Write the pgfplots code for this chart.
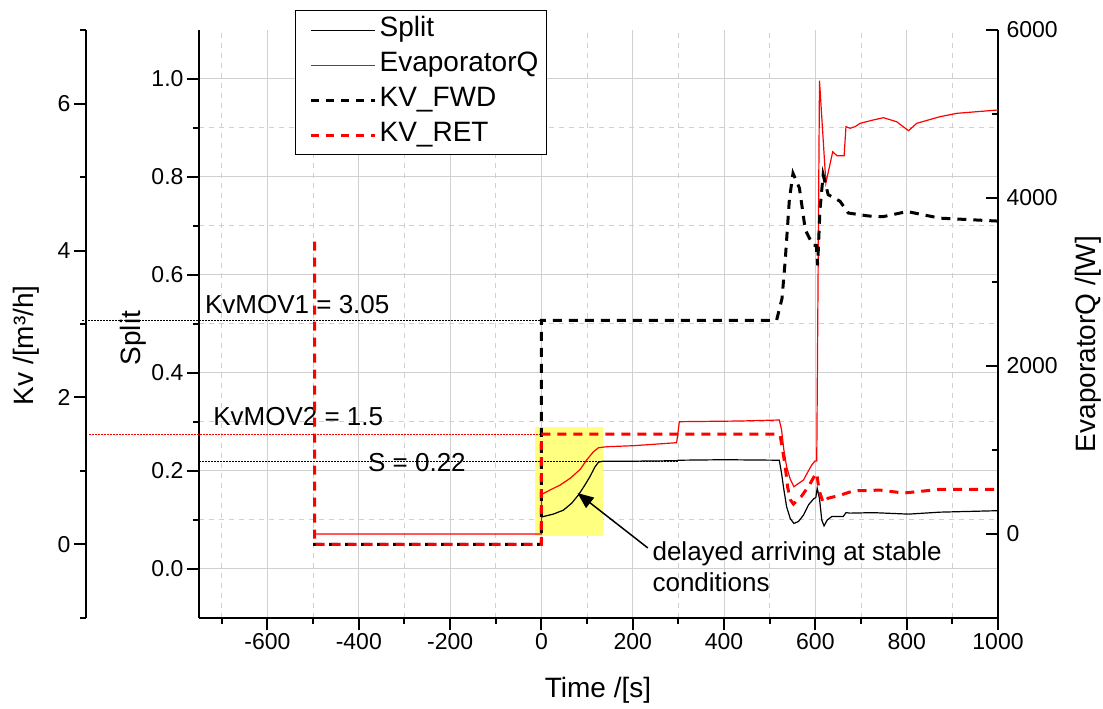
\documentclass[border=0pt]{standalone}
\usepackage{pgfplots}
\pgfplotsset{compat=1.18}
\usepackage{fontspec}
\setmainfont{Liberation Sans}
\usetikzlibrary{arrows.meta}
\definecolor{gridgray}{RGB}{208,208,208}
\definecolor{boxyellow}{RGB}{255,255,128}
\newcommand{\tickfont}{\fontsize{23}{27}\selectfont}
\newcommand{\labfont}{\fontsize{28}{32}\selectfont}
\newcommand{\annfont}{\fontsize{26}{30}\selectfont}
\pgfplotsset{
  every non boxed x axis/.style={},
  every non boxed y axis/.style={},
  base/.style={
    at={(199pt,91pt)}, anchor=south west,
    width=799pt, height=588pt, scale only axis,
    xmin=-750, xmax=1000,
    axis line style={-, line width=2.5pt, black},
    major tick length=12pt, minor tick length=6pt,
    tick style={black, line width=2pt},
    tick label style={font=\tickfont},
    /pgf/number format/assume math mode=true,
    /pgf/number format/1000 sep={},
  },
}
\begin{document}
\begin{tikzpicture}
\useasboundingbox (0,0) rectangle (1103pt,709pt);
% ---------- main axis: Split ----------
\begin{axis}[base,
  ymin=-0.1, ymax=1.1,
  axis x line=bottom, axis y line=left,
  xtick pos=bottom, ytick pos=left,
  tick align=outside,
  xtick={-600,-400,-200,0,200,400,600,800,1000},
  minor xtick={-700,-500,-300,-100,100,300,500,700,900},
  ytick={0,0.2,0.4,0.6,0.8,1.0},
  minor ytick={0.1,0.3,0.5,0.7,0.9},
  yticklabel style={/pgf/number format/.cd, fixed, fixed zerofill, precision=1},
  grid=both,
  major grid style={gridgray, line width=1pt, solid},
  minor grid style={gridgray, line width=1pt, dash pattern=on 5pt off 5pt},
  clip=false,
  legend style={at={(rel axis cs:0.1202,1.034)}, anchor=north west,
    draw=black, line width=1.2pt, fill=white, font=\labfont,
    inner xsep=5pt, inner ysep=2pt, row sep=0pt,
    nodes={inner sep=3pt, text height=21pt, text depth=8pt},
    /tikz/every even column/.append style={column sep=6pt}},
  legend cell align=left,
  legend image code/.code={\path (0pt,0pt); \draw[#1] (9pt,0pt) -- (73pt,0pt);},
]
\addlegendimage{black, line width=1.2pt}
\addlegendentry{Split}
\addlegendimage{red, line width=1.2pt}
\addlegendentry{EvaporatorQ}
\addlegendimage{black, line width=3pt, dash pattern=on 8pt off 7pt}
\addlegendentry{KV\_FWD}
\addlegendimage{red, line width=3pt, dash pattern=on 8pt off 7pt}
\addlegendentry{KV\_RET}

\fill[boxyellow] (axis cs:-14,0.068) rectangle (axis cs:135,0.290);

\addplot[black, line width=1pt, dash pattern=on 1.5pt off 1.5pt, forget plot]
  coordinates {(-750,0.22) (300,0.22)};

\addplot[black, line width=1.2pt, forget plot] coordinates {
(0,0.106) (4,0.107) (26,0.112) (48,0.120) (66,0.134) (81,0.151) (95,0.171)
(106,0.188) (117,0.208) (125,0.218) (135,0.220) (200,0.220) (297,0.221)
(300,0.222) (400,0.223) (521,0.222) (526,0.195) (530,0.168) (537,0.127)
(545,0.103) (553,0.093) (563,0.097) (574,0.110) (585,0.131) (596,0.143)
(601,0.146) (604,0.165) (609,0.144) (614,0.100) (619,0.088) (626,0.100)
(636,0.107) (661,0.107) (667,0.115) (676,0.114) (727,0.115) (804,0.112)
(873,0.116) (1000,0.119)};

\node[anchor=base west, inner sep=0pt, font=\annfont] at (axis cs:-737,0.522) {KvMOV1 = 3.05};
\node[anchor=base west, inner sep=0pt, font=\annfont] at (axis cs:-719,0.292) {KvMOV2 = 1.5};
\node[anchor=base west, inner sep=0pt, font=\annfont] at (axis cs:-380,0.198) {S = 0.22};
\node[anchor=base west, inner sep=0pt, font=\annfont] at (axis cs:243,0.018) {delayed arriving at stable};
\node[anchor=base west, inner sep=0pt, font=\annfont] at (axis cs:243,-0.045) {conditions};
\draw[black, line width=1.5pt, -{Triangle[length=16pt, width=13pt]}]
  (axis cs:233,0.043) -- (axis cs:79,0.155);

\node[rotate=90, font=\labfont] at (rel axis cs:-0.0826,0.476) {Split};
\node[font=\labfont] at (rel axis cs:0.4994,-0.1224) {Time /[s]};
\node[rotate=90, font=\labfont] at (rel axis cs:-0.2165,0.464) {Kv /[m³/h]};
\node[rotate=90, font=\labfont] at (rel axis cs:1.1126,0.466) {EvaporatorQ /[W]};
\end{axis}

% ---------- right axis: EvaporatorQ ----------
\begin{axis}[base,
  ymin=-1000, ymax=6000,
  axis x line=none, axis y line=right,
  xtick=\empty, ytick pos=right,
  tick align=inside,
  ytick={0,2000,4000,6000},
  minor ytick={-1000,1000,3000,5000},
  yticklabel style={xshift=5pt},
]
\addplot[red, line width=1.2pt] coordinates {
(-497,0) (0,0) (0,470) (19,524) (41,583) (63,663) (85,770) (99,881)
(114,980) (125,1027) (143,1039) (201,1051) (296,1087) (299,1200) (302,1337)
(435,1345) (521,1357) (526,1238) (531,1000) (537,801) (545,651) (553,563)
(574,643) (585,754) (592,821) (599,869) (603,869) (609,5396) (623,4179)
(638,4551) (647,4504) (663,4504) (667,4849) (676,4830) (687,4849) (698,4889)
(727,4929) (749,4956) (778,4908) (804,4801) (822,4889) (873,4968)
(910,5008) (1000,5048)};
\end{axis}

% ---------- Kv data (aligned with main axis) ----------
\begin{axis}[base, ymin=-1, ymax=7, hide axis, clip=false]
\addplot[black, line width=1pt, dash pattern=on 1.5pt off 1.5pt]
  coordinates {(-1006,3.05) (0,3.05)};
\addplot[red, line width=1pt, dash pattern=on 1.5pt off 1.5pt]
  coordinates {(-990,1.5) (0,1.5)};
\addplot[black, line width=3pt, dash pattern=on 9pt off 7pt] coordinates {
(-500,0) (0,0) (0,3.05) (515,3.05) (527,3.35) (534,3.87) (543,4.69)
(551,5.05) (565,4.85) (571,4.59) (578,4.28) (595,4.07) (602,4.07)
(605,3.80) (610,4.55) (617,5.03) (628,4.76) (654,4.67) (672,4.51)
(716,4.47) (748,4.46) (801,4.53) (873,4.44) (1000,4.40)};
\addplot[red, line width=3pt, dash pattern=on 9pt off 7pt] coordinates {
(-497,4.12) (-497,0) (0,0) (0,1.5) (521,1.5) (523,1.48) (528,1.29)
(534,1.06) (539,0.79) (545,0.61) (552,0.55) (570,0.66) (585,0.79)
(597,0.92) (603,0.97) (608,0.74) (617,0.57) (628,0.63) (654,0.67)
(683,0.73) (742,0.74) (793,0.70) (873,0.75) (1000,0.75)};
\end{axis}

% ---------- offset Kv axis ----------
\begin{axis}[at={(86pt,91pt)}, anchor=south west,
  width=20pt, height=588pt, scale only axis,
  xmin=0, xmax=1, ymin=-1, ymax=7,
  axis x line=none, axis y line=left,
  xtick=\empty, ytick pos=left,
  axis line style={-, line width=2.5pt, black},
  major tick length=12pt, minor tick length=6pt,
  tick style={black, line width=2pt},
  tick align=outside,
  tick label style={font=\tickfont},
  /pgf/number format/assume math mode=true,
  ytick={0,2,4,6}, minor ytick={-1,1,3,5,7},
]
\addplot[draw=none] coordinates {(0,0)};
\end{axis}
\end{tikzpicture}
\end{document}
